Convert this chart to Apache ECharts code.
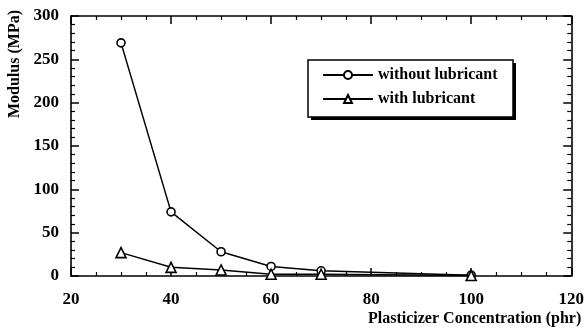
<!DOCTYPE html>
<html>
<head>
<meta charset="utf-8">
<script src="https://cdn.jsdelivr.net/npm/echarts@6/dist/echarts.min.js"></script>
<style>
  html, body { margin: 0; padding: 0; background: #fff; }
  #chart { width: 587px; height: 328px; }
</style>
</head>
<body>
<div id="chart"></div>
<script>
// Plasticizer concentration (phr) and measured modulus (MPa)
const concentration = [30, 40, 50, 60, 70, 100];
const withoutLubricant = [269, 74, 28, 11, 6, 1];
const withLubricant = [27, 10, 7, 2, 2, 0.5];
const seriesNames = ['without lubricant', 'with lubricant'];

const FONT = '"Liberation Serif", "Times New Roman", serif';
const pairs = (ys) => concentration.map((x, i) => [x, ys[i]]);

const tickStyle = { show: true, inside: true, length: 8, lineStyle: { color: '#000', width: 1.5 } };
const minorStyle = { show: true, length: 4, lineStyle: { color: '#000', width: 1.2 } };
const lineAxis = { show: true, onZero: false, lineStyle: { color: '#000', width: 1.6 } };
const labelStyle = { fontFamily: FONT, fontWeight: 'bold', fontSize: 17, color: '#000' };

const chart = echarts.init(document.getElementById('chart'), null, { renderer: 'canvas' });
chart.setOption({
  animation: false,
  backgroundColor: '#fff',
  grid: { left: 71, right: 15, top: 16, bottom: 52 },
  legend: {
    orient: 'vertical',
    left: 322, top: 67,
    data: seriesNames,
    itemWidth: 50, itemHeight: 10, itemGap: 8,
    padding: 0,
    z: 10,
    textStyle: { fontFamily: FONT, fontWeight: 'bold', fontSize: 16, color: '#000', lineHeight: 16 }
  },
  xAxis: [
    {
      type: 'value', min: 20, max: 120, interval: 20,
      axisLine: lineAxis,
      axisTick: tickStyle,
      minorTick: Object.assign({ splitNumber: 4 }, minorStyle),
      splitLine: { show: false },
      axisLabel: Object.assign({ margin: 15 }, labelStyle)
    },
    {
      type: 'value', position: 'top', min: 20, max: 120, interval: 20,
      axisLine: lineAxis,
      axisTick: tickStyle,
      minorTick: Object.assign({ splitNumber: 4 }, minorStyle),
      splitLine: { show: false },
      axisLabel: { show: false }
    }
  ],
  yAxis: [
    {
      type: 'value', min: 0, max: 300, interval: 50,
      axisLine: lineAxis,
      axisTick: tickStyle,
      minorTick: Object.assign({ splitNumber: 5 }, minorStyle),
      splitLine: { show: false },
      axisLabel: Object.assign({ margin: 12 }, labelStyle)
    },
    {
      type: 'value', position: 'right', min: 0, max: 300, interval: 50,
      axisLine: lineAxis,
      axisTick: tickStyle,
      minorTick: Object.assign({ splitNumber: 5 }, minorStyle),
      splitLine: { show: false },
      axisLabel: { show: false }
    }
  ],
  series: [
    {
      name: seriesNames[0], type: 'line', data: pairs(withoutLubricant),
      symbol: 'circle', symbolSize: 8, showAllSymbol: true,
      lineStyle: { color: '#000', width: 1.5 },
      itemStyle: { color: '#fff', borderColor: '#000', borderWidth: 1.6 }
    },
    {
      name: seriesNames[1], type: 'line', data: pairs(withLubricant),
      symbol: 'triangle', symbolSize: 10, showAllSymbol: true,
      lineStyle: { color: '#000', width: 1.5 },
      itemStyle: { color: '#fff', borderColor: '#000', borderWidth: 1.6 }
    }
  ],
  graphic: [
    // legend frame with a solid drop shadow
    {
      type: 'rect', z: 5,
      shape: { x: 311, y: 63, width: 205, height: 57 },
      style: { fill: '#000' }
    },
    {
      type: 'rect', z: 6,
      shape: { x: 308, y: 60, width: 205, height: 57 },
      style: { fill: '#fff', stroke: '#000', lineWidth: 1.5 }
    },
    {
      type: 'text', left: 368, top: 311,
      style: { text: 'Plasticizer Concentration (phr)', font: 'bold 16px ' + FONT, fill: '#000' }
    },
    {
      type: 'text', x: 7, y: 118, rotation: Math.PI / 2,
      style: { text: 'Modulus (MPa)', font: 'bold 16px ' + FONT, fill: '#000' }
    }
  ]
});
</script>
</body>
</html>
